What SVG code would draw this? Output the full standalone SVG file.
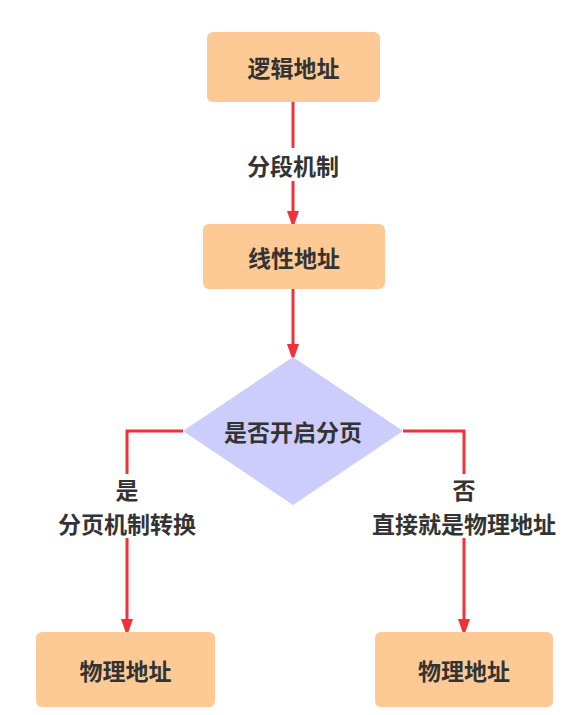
<svg xmlns="http://www.w3.org/2000/svg" width="588" height="715" viewBox="0 0 588 715">
<style>
.box{fill:#fdca95;}
.dia{fill:#ccccfd;}
.t{font-family:"Noto Sans CJK SC","Noto Sans",sans-serif;font-weight:bold;font-size:23px;fill:#333;text-anchor:middle;dominant-baseline:central;}
.ln{stroke:#f2303a;stroke-width:3;fill:none;}
</style>
<defs>
<marker id="ah" markerWidth="17" markerHeight="24" refX="17" refY="8.5" orient="auto" markerUnits="userSpaceOnUse" viewBox="0 0 24 17">
<path d="M0,0 L24,8.5 L0,17 Z" fill="#f2303a"/>
</marker>
</defs>
<rect width="588" height="715" fill="#fff"/>
<g id="connectors">
<path class="ln" d="M293,102 V223" marker-end="url(#ah)"/>
<path class="ln" d="M293,289 V356" marker-end="url(#ah)"/>
<path class="ln" d="M183,431 H127 V631" marker-end="url(#ah)"/>
<path class="ln" d="M403,431 H464 V631" marker-end="url(#ah)"/>
<rect x="238" y="148" width="110" height="33" fill="#fff"/>
<text class="t" x="293" y="165">分段机制</text>
<rect x="50" y="474" width="155" height="64" fill="#fff"/>
<text class="t" x="127" y="489">是</text>
<text class="t" x="127" y="523">分页机制转换</text>
<rect x="365" y="474" width="198" height="64" fill="#fff"/>
<text class="t" x="464" y="489">否</text>
<text class="t" x="464" y="523">直接就是物理地址</text>
</g>
<g id="logical">
<rect class="box" x="207" y="32" width="173" height="70" rx="6"/>
<text class="t" x="293.5" y="67">逻辑地址</text>
</g>
<g id="linear">
<rect class="box" x="203" y="224" width="182" height="65" rx="6"/>
<text class="t" x="294" y="256.5">线性地址</text>
</g>
<g id="decision">
<polygon class="dia" points="293,357 403,431 293,505 183,431"/>
<text class="t" x="293" y="431">是否开启分页</text>
</g>
<g id="phys-left">
<rect class="box" x="36" y="632" width="179" height="75" rx="6"/>
<text class="t" x="125.5" y="669.5">物理地址</text>
</g>
<g id="phys-right">
<rect class="box" x="375" y="632" width="178" height="75" rx="6"/>
<text class="t" x="464" y="669.5">物理地址</text>
</g>
</svg>
